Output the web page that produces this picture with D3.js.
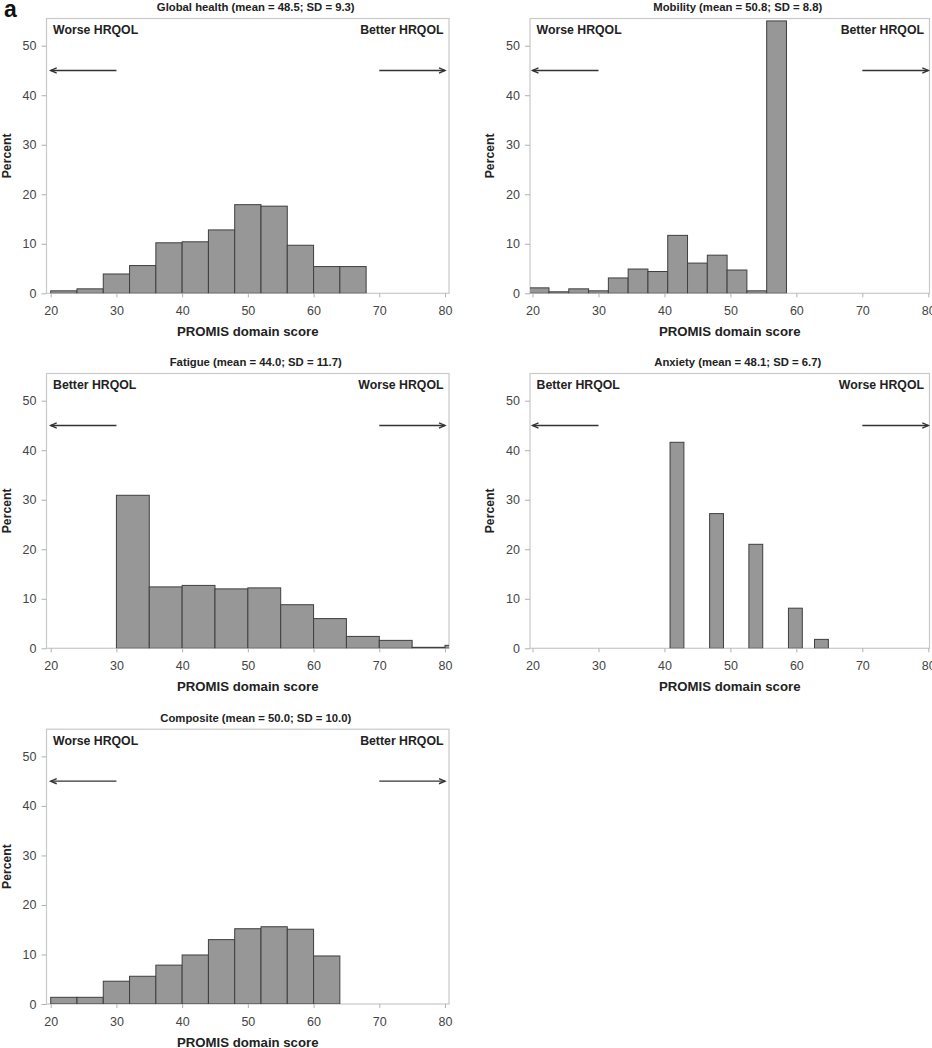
<!DOCTYPE html>
<html>
<head>
<meta charset="utf-8">
<script src="https://cdn.jsdelivr.net/npm/d3@7"></script>
<style>
  html, body { margin: 0; padding: 0; background: #fff; }
  svg { display: block; font-family: "Liberation Sans", Arial, sans-serif; }
</style>
</head>
<body>
<svg id="chart" width="932" height="1048"></svg>
<script>
// ---------------- data ----------------
const panelTitles = [
  "Global health (mean = 48.5; SD = 9.3)",
  "Mobility (mean = 50.8; SD = 8.8)",
  "Fatigue (mean = 44.0; SD = 11.7)",
  "Anxiety (mean = 48.1; SD = 6.7)",
  "Composite (mean = 50.0; SD = 10.0)"
];
const leftLabels  = ["Worse HRQOL", "Worse HRQOL", "Better HRQOL", "Better HRQOL", "Worse HRQOL"];
const rightLabels = ["Better HRQOL", "Better HRQOL", "Worse HRQOL", "Worse HRQOL", "Better HRQOL"];
const xTicks = [20, 30, 40, 50, 60, 70, 80];
const yTicks = [0, 10, 20, 30, 40, 50];
const xAxisTitle = "PROMIS domain score";
const yAxisTitle = "Percent";

// Global health: bins of width 4
const globalBinStart = [20, 24, 28, 32, 36, 40, 44, 48, 52, 56, 60, 64];
const globalBinWidth = 4;
const globalPct = [0.5, 0.9, 3.9, 5.6, 10.2, 10.4, 12.8, 17.9, 17.6, 9.7, 5.4, 5.4];

// Mobility: bins of width 3
const mobilityBinStart = [19.5, 22.5, 25.5, 28.5, 31.5, 34.5, 37.5, 40.5, 43.5, 46.5, 49.5, 52.5, 55.5];
const mobilityBinWidth = 3;
const mobilityPct = [1.1, 0.3, 0.9, 0.5, 3.1, 4.9, 4.4, 11.7, 6.1, 7.7, 4.7, 0.5, 55.0];

// Fatigue: bins of width 5
const fatigueBinStart = [30, 35, 40, 45, 50, 55, 60, 65, 70, 75, 80];
const fatigueBinWidth = 5;
const fatiguePct = [30.9, 12.4, 12.7, 12.0, 12.2, 8.8, 6.0, 2.4, 1.6, 0.2, 0.6];

// Anxiety: narrow bars
const anxietyBinStart = [40.85, 46.85, 52.8, 58.8, 62.75];
const anxietyBinWidth = 2.1;
const anxietyPct = [41.6, 27.2, 21.0, 8.1, 1.8];

// Composite: bins of width 4
const compositeBinStart = [20, 24, 28, 32, 36, 40, 44, 48, 52, 56, 60];
const compositeBinWidth = 4;
const compositePct = [1.35, 1.35, 4.6, 5.6, 7.85, 9.9, 13.0, 15.2, 15.6, 15.1, 9.7];

const arrowY = 45;            // arrows drawn at 45 %
const arrowLeft = [20, 30];   // left arrow from 30 to 20
const arrowRight = [70, 80];  // right arrow from 70 to 80

// ---------------- layout ----------------
const cols = [
  { L: 46.5, R: 449, x20: 50.7, x80: 445 },
  { L: 530, R: 929.5, x20: 532.5, x80: 928.3 }
];
const rowsB = [293.3, 648.3, 1004];
const plotH = 274.8;          // frame height
const px50 = 247.6;           // pixels for 50 %

const series = [
  { starts: globalBinStart, width: globalBinWidth, vals: globalPct, col: 0, row: 0 },
  { starts: mobilityBinStart, width: mobilityBinWidth, vals: mobilityPct, col: 1, row: 0 },
  { starts: fatigueBinStart, width: fatigueBinWidth, vals: fatiguePct, col: 0, row: 1 },
  { starts: anxietyBinStart, width: anxietyBinWidth, vals: anxietyPct, col: 1, row: 1 },
  { starts: compositeBinStart, width: compositeBinWidth, vals: compositePct, col: 0, row: 2 }
];

const svg = d3.select("#chart");

svg.append("text")
  .attr("x", 4).attr("y", 16.5)
  .attr("font-size", 23).attr("font-weight", "bold").attr("fill", "#111")
  .text("a");

const defs = svg.append("defs");

series.forEach((s, i) => {
  const c = cols[s.col];
  const B = rowsB[s.row];
  const T = B - plotH;
  const x = d3.scaleLinear().domain([20, 80]).range([c.x20, c.x80]);
  const y = d3.scaleLinear().domain([0, 50]).range([B, B - px50]);
  const g = svg.append("g");

  defs.append("clipPath").attr("id", "clip" + i)
    .append("rect").attr("x", c.L).attr("y", T).attr("width", c.R - c.L).attr("height", B - T);

  // frame
  g.append("rect")
    .attr("x", c.L).attr("y", T).attr("width", c.R - c.L).attr("height", B - T)
    .attr("fill", "none").attr("stroke", "#c9c9c9").attr("stroke-width", 1.2);

  // bars
  const bins = s.starts.map((st, k) => ({ x0: st, x1: st + s.width, v: s.vals[k] }));
  g.append("g").attr("clip-path", `url(#clip${i})`)
    .selectAll("rect").data(bins).join("rect")
    .attr("x", d => x(d.x0))
    .attr("width", d => x(d.x1) - x(d.x0))
    .attr("y", d => y(d.v))
    .attr("height", d => y(0) - y(d.v))
    .attr("fill", "#979797")
    .attr("stroke", "#3f3f3f")
    .attr("stroke-width", 1);

  // x axis
  const xa = g.append("g").attr("transform", `translate(0,${B})`)
    .call(d3.axisBottom(x).tickValues(xTicks).tickSize(4).tickPadding(9).tickFormat(d3.format("d")));
  xa.select(".domain").remove();
  xa.selectAll(".tick line").attr("stroke", "#b0b0b0");
  xa.selectAll(".tick text").attr("font-size", 12.5).attr("fill", "#444")
    .attr("font-family", "Liberation Sans, Arial, sans-serif");

  // y axis
  const ya = g.append("g").attr("transform", `translate(${c.L},0)`)
    .call(d3.axisLeft(y).tickValues(yTicks).tickSize(5).tickPadding(5).tickFormat(d3.format("d")));
  ya.select(".domain").remove();
  ya.selectAll(".tick line").attr("stroke", "#b0b0b0");
  ya.selectAll(".tick text").attr("font-size", 12.5).attr("fill", "#444")
    .attr("font-family", "Liberation Sans, Arial, sans-serif");

  // titles
  g.append("text")
    .attr("x", (c.L + c.R) / 2 + 8).attr("y", T - 7.5)
    .attr("text-anchor", "middle").attr("font-size", 11.3).attr("font-weight", "bold").attr("fill", "#222")
    .text(panelTitles[i]);

  g.append("text")
    .attr("x", (c.L + c.R) / 2).attr("y", B + 43)
    .attr("text-anchor", "middle").attr("font-size", 13.2).attr("font-weight", "bold").attr("fill", "#222")
    .text(xAxisTitle);

  g.append("text")
    .attr("transform", `translate(${c.L - 36},${(T + B) / 2}) rotate(-90)`)
    .attr("text-anchor", "middle").attr("font-size", 12.2).attr("font-weight", "bold").attr("fill", "#222")
    .text(yAxisTitle);

  // direction labels
  g.append("text")
    .attr("x", c.L + 6.5).attr("y", T + 15.5)
    .attr("font-size", 12.3).attr("font-weight", "bold").attr("fill", "#222")
    .text(leftLabels[i]);
  g.append("text")
    .attr("x", c.R - 5.5).attr("y", T + 15.5)
    .attr("text-anchor", "end")
    .attr("font-size", 12.3).attr("font-weight", "bold").attr("fill", "#222")
    .text(rightLabels[i]);

  // arrows
  const ay = y(arrowY);
  const drawArrow = (from, to) => {
    const x0 = x(from), x1 = x(to);
    const dir = Math.sign(x1 - x0);
    g.append("line").attr("x1", x0).attr("x2", x1).attr("y1", ay).attr("y2", ay)
      .attr("stroke", "#333").attr("stroke-width", 1.4);
    g.append("path")
      .attr("d", `M${x1 - dir * 6},${ay - 2.6} L${x1},${ay} L${x1 - dir * 6},${ay + 2.6}`)
      .attr("fill", "none").attr("stroke", "#333").attr("stroke-width", 1.4);
  };
  drawArrow(arrowLeft[1], arrowLeft[0]);
  drawArrow(arrowRight[0], arrowRight[1]);
});
</script>
</body>
</html>
